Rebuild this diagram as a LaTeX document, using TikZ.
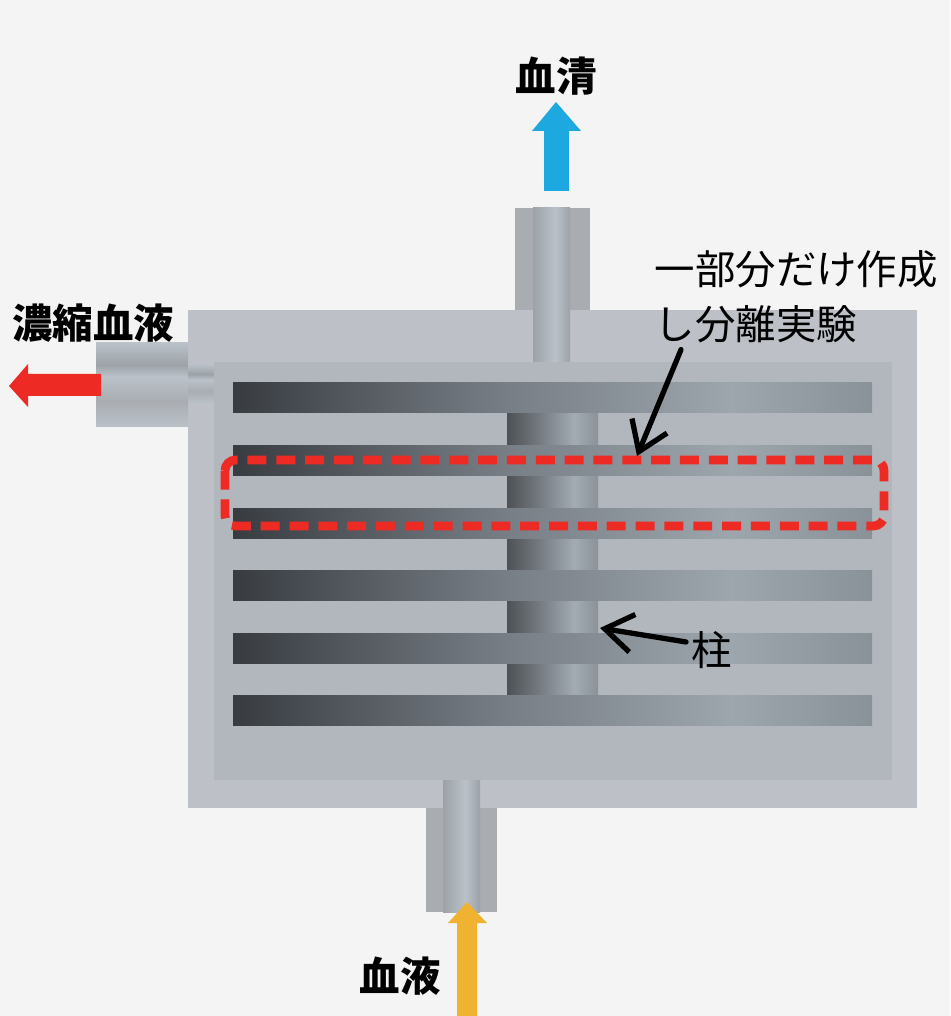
\documentclass[tikz,border=0pt]{standalone}
\usepackage{fontspec}
\newfontfamily\jpfont{Noto Sans CJK JP}
\usetikzlibrary{arrows.meta,positioning}
\definecolor{paper}{HTML}{F4F4F4}
\definecolor{housing}{HTML}{BDC1C7}
\definecolor{chamber}{HTML}{B2B7BD}
\definecolor{pipegray}{HTML}{A9ADB2}
\definecolor{plateA}{HTML}{383C41}
\definecolor{plateB}{HTML}{767D84}
\definecolor{plateC}{HTML}{9DA5AD}
\definecolor{plateD}{HTML}{8A9299}
\definecolor{postA}{HTML}{4E5257}
\definecolor{postB}{HTML}{6F747A}
\definecolor{postC}{HTML}{A3ABB3}
\definecolor{postD}{HTML}{8B9298}
\definecolor{chanA}{HTML}{9CA2A8}
\definecolor{chanB}{HTML}{BAC1C8}
\definecolor{serumblue}{HTML}{1DA8DF}
\definecolor{wastered}{HTML}{EE2A24}
\definecolor{bloodamber}{HTML}{EFB331}
\definecolor{cutred}{HTML}{EE2A24}
% plates: dark at the left end, light towards the right
\pgfdeclarehorizontalshading{platefade}{100bp}{color(0bp)=(plateA); color(25bp)=(plateA); color(46bp)=(plateB); color(64bp)=(plateC); color(75bp)=(plateD); color(100bp)=(plateD)}
\pgfdeclarehorizontalshading{postfade}{100bp}{color(0bp)=(postA); color(25bp)=(postA); color(40bp)=(postB); color(62bp)=(postC); color(75bp)=(postD); color(100bp)=(postD)}
\pgfdeclarehorizontalshading{chanfade}{100bp}{color(0bp)=(chanA); color(25bp)=(chanA); color(55bp)=(chanB); color(75bp)=(chanA); color(100bp)=(chanA)}
\pgfdeclareverticalshading{sidefade}{100bp}{color(0bp)=(chanB); color(25bp)=(chanB); color(40bp)=(pipegray); color(55bp)=(chanB); color(62bp)=(chanA); color(75bp)=(chanB); color(100bp)=(chanB)}
\tikzset{
  plate/.style={shading=platefade},
  post/.style={shading=postfade},
  channel/.style={shading=chanfade},
  sidepipe/.style={shading=sidefade},
  slice/.style={draw=cutred, line width=2.5pt, dash pattern=on 5.4pt off 2.8pt, rounded corners=3pt},
  callout/.style={-{Straight Barb[length=2.8mm,width=3.8mm]}, line width=1.5pt, line cap=round},
  tag/.style={font=\jpfont\bfseries\fontsize{11.5}{15}\selectfont, inner sep=0pt},
  note/.style={font=\jpfont\fontsize{11.5}{15.6}\selectfont, inner sep=0pt, align=left}
}
\begin{document}
\begin{tikzpicture}[x=0.01cm, y=-0.01cm]
  \fill[paper] (0,0) rectangle (950,1016);
  \useasboundingbox (0,0) rectangle (950,1016);

  % housing and its three ports
  \fill[housing] (188,310) rectangle (917,808);
  \fill[pipegray] (515,208) rectangle (590,310);
  \fill[channel] (533,208) rectangle (570,362);
  \fill[pipegray] (426,808) rectangle (497,912);
  \fill[channel] (443,780) rectangle (480,912);
  \fill[sidepipe] (96,343) rectangle (188,427);
  \fill[sidepipe] (188,364) rectangle (214,403);
  \fill[chamber] (214,362) rectangle (892,780);

  % centre post and the stacked plates
  \fill[post] (507,413) rectangle (598,695);
  \foreach \py in {383,445.5,508,570.5,633,695.5}
    \fill[plate] (233,\py) rectangle (872,\py+30);

  % the slice that was built
  \draw[slice] (225,460) rectangle (884,526);

  % flows
  \fill[serumblue] (544,191) -- (544,131) -- (532,131) -- (556,102) -- (581,131) -- (569,131) -- (569,191) -- cycle;
  \fill[wastered] (101,374) -- (28,374) -- (28,364) -- (9,386) -- (28,407) -- (28,396) -- (101,396) -- cycle;
  \fill[bloodamber] (457,1016) -- (457,923) -- (448,923) -- (467,902) -- (487,923) -- (477,923) -- (477,1016) -- cycle;

  \node[tag] (serum) at (556,76) {血清};
  \node[tag] (concentrate) at (93,323) {濃縮血液};
  \node[tag] (blood) at (400,976) {血液};
  \node[note, anchor=north west] (trial) at (654,250) {一部分だけ作成\\し分離実験};
  \node[note] (pillar) at (712,650) {柱};

  \coordinate (sliceedge) at (637,456);
  \coordinate (postedge) at (600,628);
  \draw[callout] ([xshift=0.27cm, yshift=-0.06cm]trial.south west) -- (sliceedge);
  \draw[callout] ([xshift=-0.05cm, yshift=0.08cm]pillar.west) -- (postedge);
\end{tikzpicture}
\end{document}
